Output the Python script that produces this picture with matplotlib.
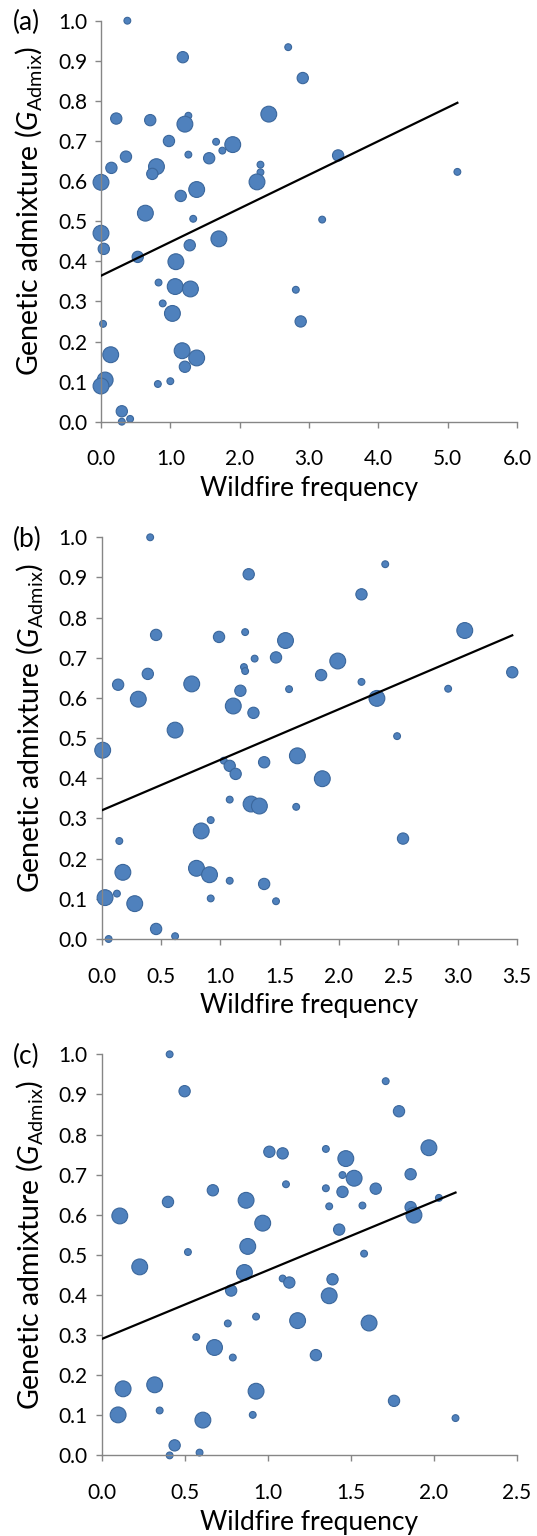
import numpy as np
import matplotlib
matplotlib.use("Agg")
import matplotlib.pyplot as plt

plt.rcParams["font.family"] = ["Lato", "DejaVu Sans"]
plt.rcParams["mathtext.fontset"] = "custom"
plt.rcParams["mathtext.rm"] = "Lato"
plt.rcParams["mathtext.it"] = "Lato:italic"

# (a)
a_freq = [0.38, 1.18, 2.70, 2.91, 0.22, 0.71, 1.26, 1.21, 2.42, 0.98,
          1.66, 1.75, 1.90, 0.36, 1.26, 1.56, 0.15, 0.80, 0.74, 2.30,
          2.30, 2.25, 0.00, 1.38, 1.15, 0.64, 1.33, 0.00, 1.70, 1.28,
          0.04, 0.53, 1.08, 0.83, 1.07, 1.29, 0.89, 1.03, 0.03, 0.14,
          1.17, 1.38, 1.21, 0.06, 0.00, 0.82, 1.00, 0.30, 0.30, 0.42,
          2.81, 2.88, 3.42, 5.14, 3.19]
a_admix = [1.000, 0.909, 0.934, 0.857, 0.756, 0.752, 0.763, 0.742, 0.767, 0.700,
           0.698, 0.676, 0.691, 0.661, 0.666, 0.657, 0.633, 0.636, 0.618, 0.641,
           0.622, 0.598, 0.597, 0.579, 0.563, 0.520, 0.506, 0.470, 0.456, 0.440,
           0.431, 0.411, 0.399, 0.347, 0.337, 0.331, 0.295, 0.270, 0.244, 0.167,
           0.177, 0.159, 0.137, 0.104, 0.089, 0.094, 0.101, 0.026, 0.000, 0.007,
           0.329, 0.250, 0.664, 0.623, 0.504]
a_size = [1, 2, 1, 2, 2, 2, 1, 3, 3, 2, 1, 1, 3, 2, 1, 2, 2, 3, 2, 1,
          1, 3, 3, 3, 2, 3, 1, 3, 3, 2, 2, 2, 3, 1, 3, 3, 1, 3, 1, 3,
          3, 3, 2, 3, 3, 1, 1, 2, 1, 1, 1, 2, 2, 1, 1]

# (b)
b_freq = [0.41, 1.24, 0.46, 0.99, 1.21, 1.55, 1.29, 1.47, 0.39, 1.20,
          1.21, 0.14, 0.76, 1.17, 1.58, 0.31, 1.11, 1.28, 0.62, 0.01,
          1.65, 1.03, 1.08, 1.37, 1.13, 1.08, 1.26, 1.33, 1.64, 0.92,
          0.84, 0.15, 0.18, 0.80, 0.91, 1.37, 1.08, 0.03, 0.13, 0.28,
          0.92, 1.47, 0.46, 0.06, 0.62, 2.39, 2.19, 3.06, 1.99, 1.85,
          2.19, 3.46, 2.92, 2.32, 2.49, 1.86, 2.54]
b_admix = [1.000, 0.908, 0.757, 0.752, 0.764, 0.743, 0.698, 0.701, 0.660, 0.677,
           0.667, 0.633, 0.635, 0.618, 0.622, 0.597, 0.580, 0.563, 0.520, 0.470,
           0.456, 0.444, 0.431, 0.440, 0.411, 0.347, 0.336, 0.331, 0.329, 0.296,
           0.269, 0.244, 0.166, 0.176, 0.160, 0.137, 0.145, 0.103, 0.113, 0.088,
           0.101, 0.094, 0.025, 0.000, 0.007, 0.933, 0.858, 0.768, 0.692, 0.657,
           0.640, 0.664, 0.623, 0.599, 0.505, 0.399, 0.250]
b_size = [1, 2, 2, 2, 1, 3, 1, 2, 2, 1, 1, 2, 3, 2, 1, 3, 3, 2, 3, 3,
          3, 1, 2, 2, 2, 1, 3, 3, 1, 1, 3, 1, 3, 3, 3, 2, 1, 3, 1, 3,
          1, 1, 2, 1, 1, 1, 2, 3, 3, 2, 1, 2, 1, 3, 1, 3, 2]

# (c)
c_freq = [0.41, 0.50, 1.01, 1.09, 1.11, 0.67, 0.40, 0.87, 0.11, 0.97,
          0.52, 0.88, 0.23, 0.86, 1.09, 1.13, 0.78, 0.93, 0.76, 1.18,
          0.57, 0.68, 0.79, 0.13, 0.32, 0.93, 0.35, 0.10, 0.91, 0.61,
          0.44, 0.41, 0.59, 1.71, 1.79, 1.35, 1.47, 1.97, 1.45, 1.52,
          1.86, 1.35, 1.45, 1.65, 1.37, 1.57, 1.86, 1.88, 2.03, 1.43,
          1.58, 1.39, 1.37, 1.61, 1.29, 1.76, 2.13]
c_admix = [1.000, 0.908, 0.757, 0.753, 0.676, 0.661, 0.632, 0.636, 0.597, 0.579,
           0.507, 0.521, 0.470, 0.456, 0.441, 0.431, 0.411, 0.346, 0.329, 0.336,
           0.295, 0.269, 0.244, 0.166, 0.176, 0.160, 0.112, 0.101, 0.101, 0.088,
           0.025, 0.000, 0.007, 0.933, 0.858, 0.764, 0.740, 0.767, 0.699, 0.691,
           0.701, 0.666, 0.657, 0.665, 0.621, 0.623, 0.619, 0.599, 0.642, 0.563,
           0.503, 0.439, 0.398, 0.330, 0.250, 0.136, 0.093]
c_size = [1, 2, 2, 2, 1, 2, 2, 3, 3, 3, 1, 3, 3, 3, 1, 2, 2, 1, 1, 3,
          1, 3, 1, 3, 3, 3, 1, 3, 1, 3, 2, 1, 1, 1, 2, 1, 3, 3, 1, 3,
          2, 1, 2, 2, 1, 1, 2, 3, 1, 2, 1, 2, 3, 3, 2, 2, 1]

# trend lines (intercept, slope)
trend_a = (0.364, 0.0839)
trend_b = (0.320, 0.126)
trend_c = (0.290, 0.1715)

panels = [
    ("(a)", a_freq, a_admix, a_size, trend_a, 6.0, 1.0),
    ("(b)", b_freq, b_admix, b_size, trend_b, 3.5, 0.5),
    ("(c)", c_freq, c_admix, c_size, trend_c, 2.5, 0.5),
]

W, H = 537, 1536
# axes boxes in pixels: left, right, top, bottom
boxes = [(101, 517, 20.7, 421.7), (101.5, 517, 537.3, 939), (101.5, 517, 1054.3, 1455.4)]

area = {1: 24, 2: 66, 3: 130}
grey = "#868686"

fig = plt.figure(figsize=(W / 100, H / 100), dpi=100)

for (lab, fx, gy, sz, trend, xmax, xstep), (l, r, t, b) in zip(panels, boxes):
    ax = fig.add_axes([l / W, 1 - b / H, (r - l) / W, (b - t) / H])
    s = [area[k] for k in sz]
    ax.scatter(fx, gy, s=s, c="#4F81BD", edgecolors="#3B679C", linewidths=0.8,
               zorder=2, clip_on=False)
    xx = np.array([0, max(fx)])
    ax.plot(xx, trend[0] + trend[1] * xx, color="black", lw=1.6, zorder=3)

    ax.set_xlim(0, xmax)
    ax.set_ylim(0, 1.0)
    ax.set_xticks(np.arange(0, xmax + 0.001, xstep))
    ax.set_yticks(np.arange(0, 1.001, 0.1))
    ax.xaxis.set_major_formatter(matplotlib.ticker.FormatStrFormatter("%.1f"))
    ax.yaxis.set_major_formatter(matplotlib.ticker.FormatStrFormatter("%.1f"))
    for side in ["top", "right"]:
        ax.spines[side].set_visible(False)
    for side in ["left", "bottom"]:
        ax.spines[side].set_color(grey)
        ax.spines[side].set_linewidth(1.0)
    ax.tick_params(axis="x", direction="out", length=4, width=1.0, color=grey,
                   labelsize=15, pad=16)
    ax.tick_params(axis="y", direction="out", length=4, width=1.0, color=grey,
                   labelsize=15, pad=6)
    ax.set_facecolor("none")

    ax.set_xlabel("Wildfire frequency", fontsize=19)
    ax.xaxis.set_label_coords(0.5, -0.135)
    ax.set_ylabel(r"Genetic admixture ($\mathit{G}_{\mathrm{Admix}}$)", fontsize=20.5)
    ax.yaxis.set_label_coords(-0.137, 0.525)

    fig.text(13 / W, 1 - (t + 2) / H, lab, fontsize=19, va="center", ha="left")

fig.savefig("out.png", dpi=100)
